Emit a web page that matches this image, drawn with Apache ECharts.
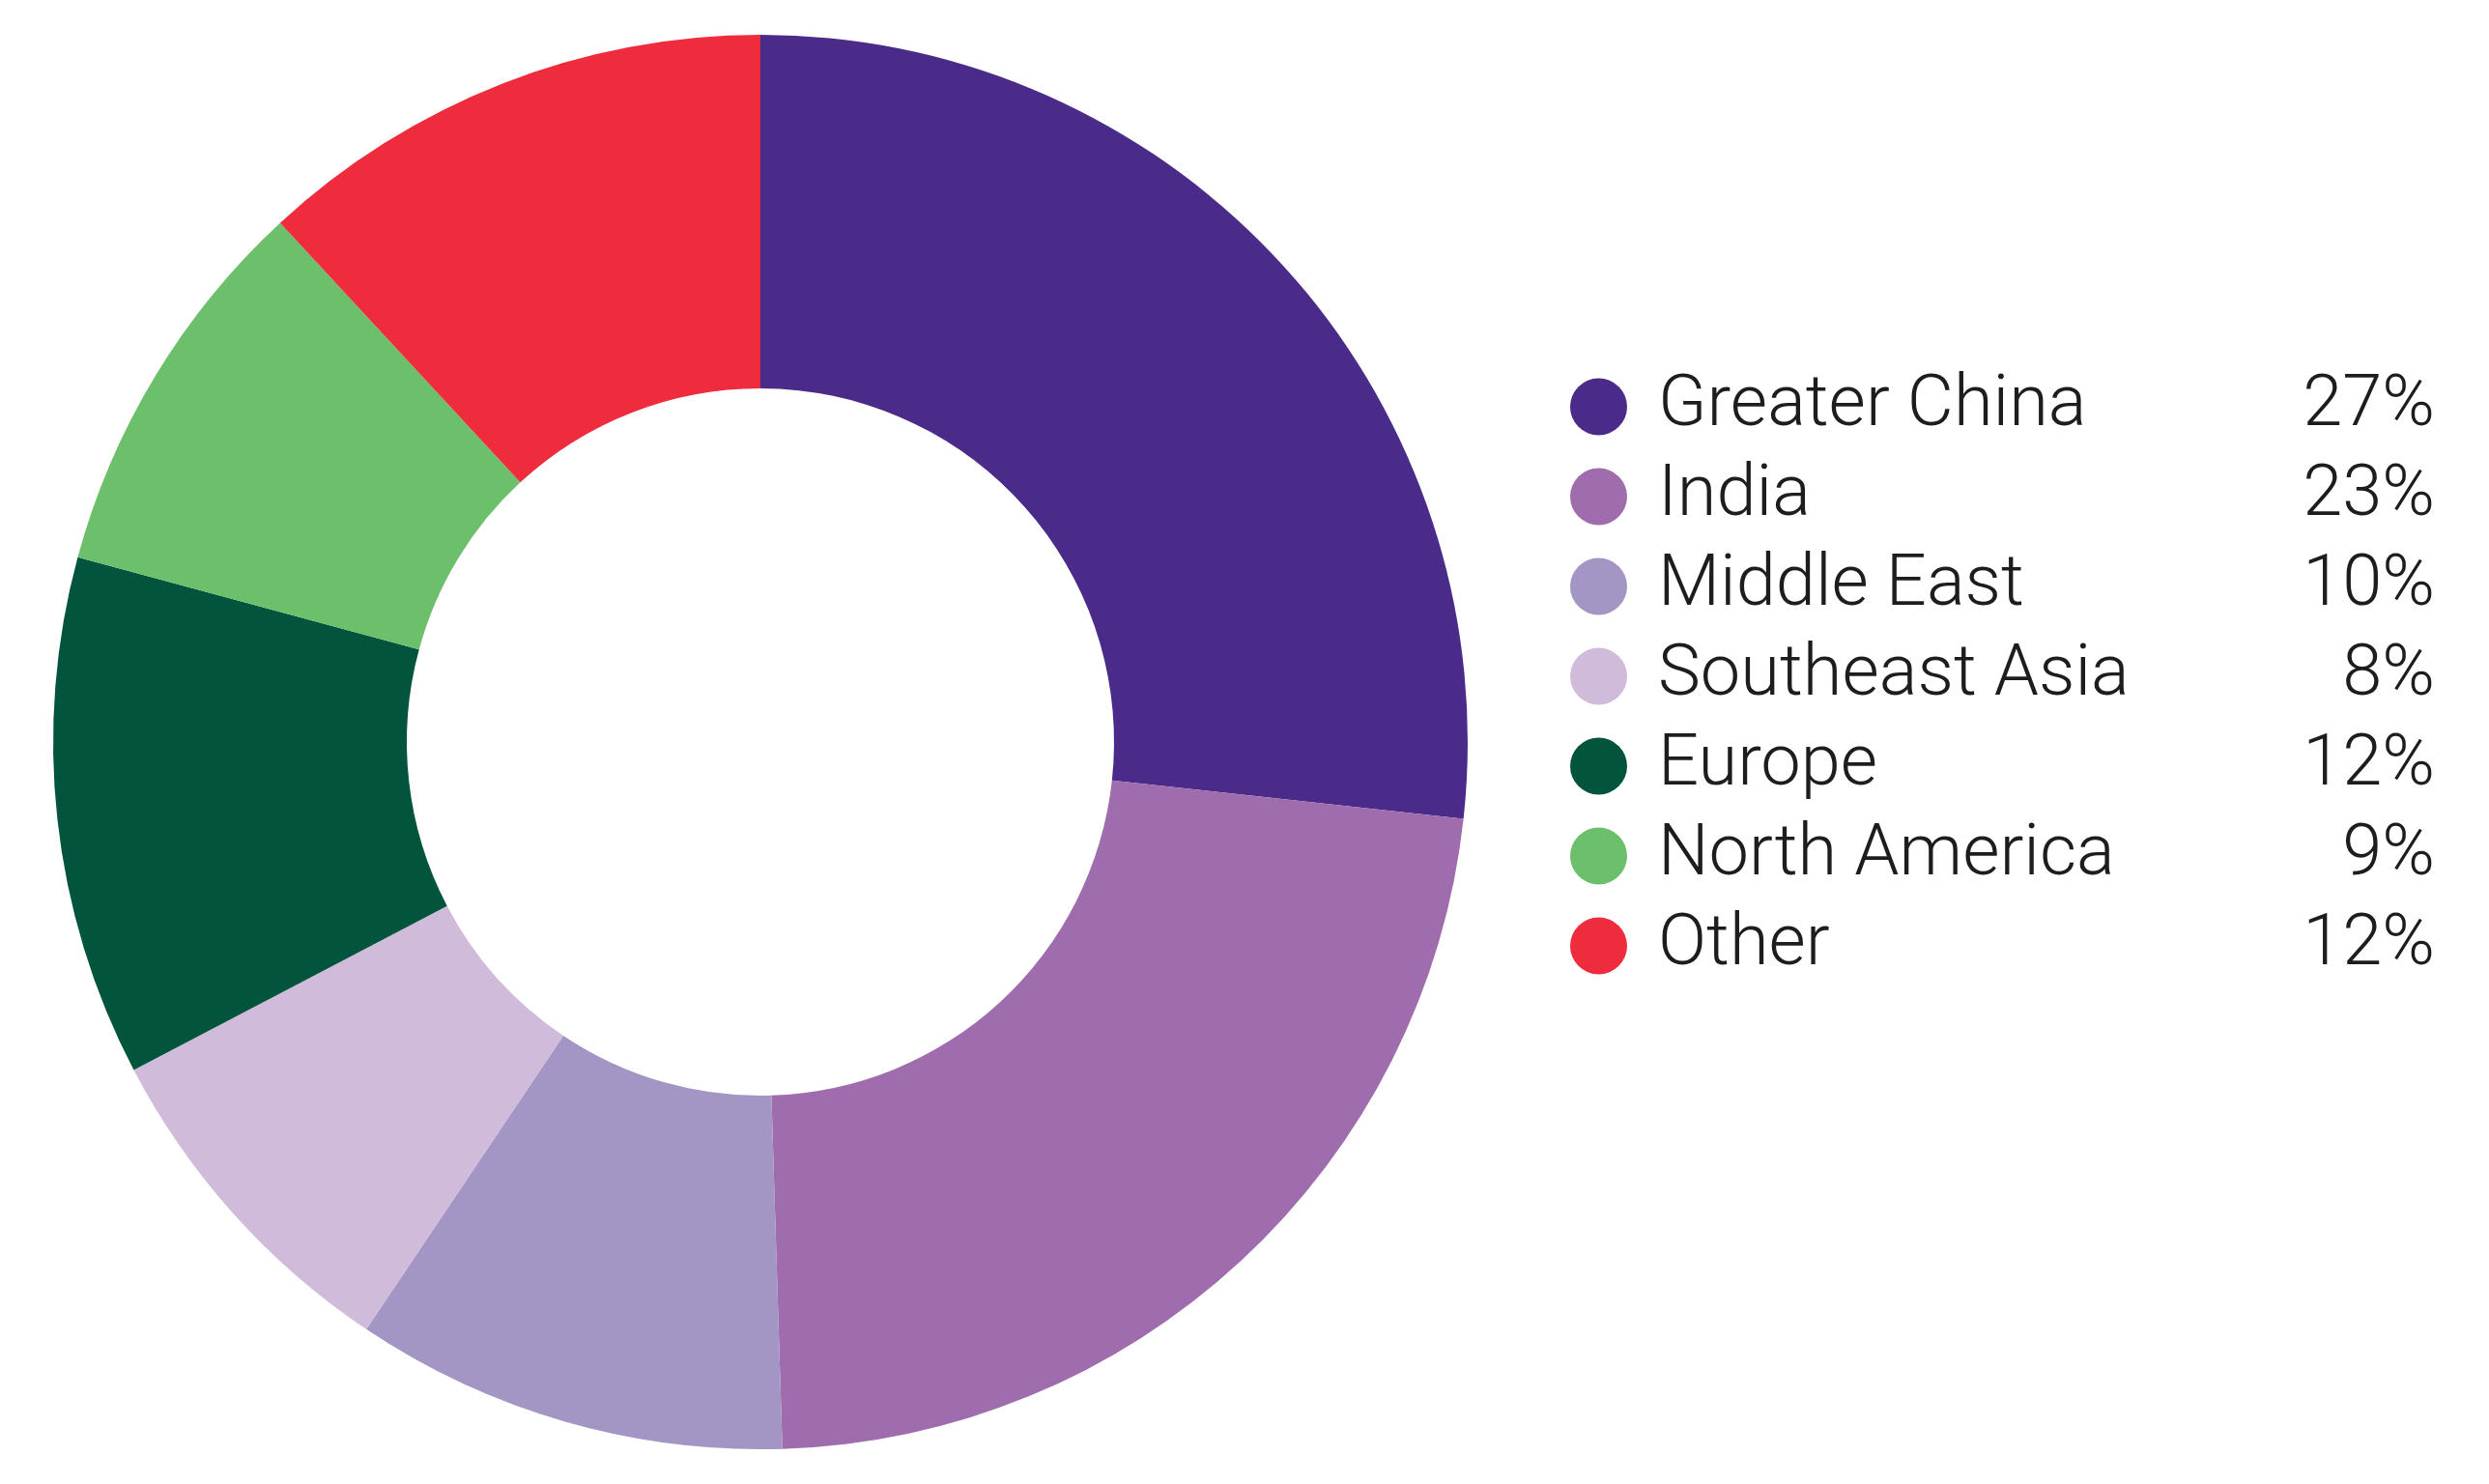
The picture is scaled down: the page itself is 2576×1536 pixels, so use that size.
<!DOCTYPE html>
<html>
<head>
<meta charset="utf-8">
<title>Regional split</title>
<script src="https://cdn.jsdelivr.net/npm/echarts@6/dist/echarts.min.js"></script>
<style>
  html, body { margin: 0; padding: 0; background: #ffffff; }
  #main { width: 2576px; height: 1536px; }
</style>
</head>
<body>
<div id="main"></div>
<script>
// 数据
const regions = ['Greater China', 'India', 'Middle East', 'Southeast Asia', 'Europe', 'North America', 'Other'];
const shares = [27, 23, 10, 8, 12, 9, 12];
const colors = ['#4a2b89', '#9f6cad', '#a396c4', '#d0bbdb', '#02553c', '#6cc06b', '#ee2c3d'];

const chart = echarts.init(document.getElementById('main'));

const pieData = regions.map(function (name, i) {
    return { name: name, value: shares[i] };
});

const option = {
    backgroundColor: '#ffffff',
    animation: false,
    color: colors,
    legend: {
        orient: 'vertical',
        left: 1620,
        top: 379,
        itemWidth: 59,
        itemHeight: 59,
        itemGap: 19,
        icon: 'circle',
        selectedMode: false,
        data: regions,
        formatter: function (name) {
            const i = regions.indexOf(name);
            return '{n|' + name + '}{p|' + shares[i] + '%}';
        },
        textStyle: {
            rich: {
                n: {
                    fontFamily: 'Roboto',
                    fontWeight: 300,
                    fontSize: 74,
                    color: '#1f1c1d',
                    lineHeight: 93,
                    width: 530,
                    padding: [0, 0, 0, 27]
                },
                p: {
                    fontFamily: 'Roboto',
                    fontWeight: 300,
                    fontSize: 74,
                    color: '#1f1c1d',
                    lineHeight: 93,
                    width: 274,
                    align: 'right'
                }
            }
        }
    },
    series: [{
        name: 'Region',
        type: 'pie',
        center: [787, 768],
        radius: [366, 732],
        startAngle: 90,
        clockwise: true,
        label: { show: false },
        labelLine: { show: false },
        emphasis: { disabled: true },
        itemStyle: { borderWidth: 0 },
        data: pieData
    }]
};

chart.setOption(option);
</script>
</body>
</html>
